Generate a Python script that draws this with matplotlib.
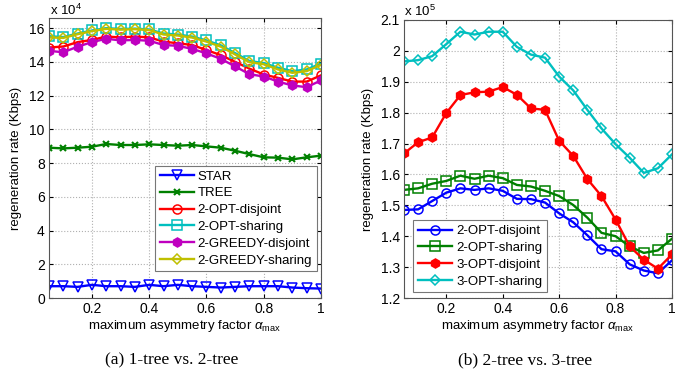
import matplotlib
matplotlib.use("Agg")
import matplotlib.pyplot as plt

plt.rcParams['font.family'] = ['Liberation Sans', 'DejaVu Sans']
plt.rcParams['mathtext.fontset'] = 'custom'
plt.rcParams['mathtext.rm'] = 'Liberation Sans'
plt.rcParams['mathtext.it'] = 'Liberation Sans:italic'

x = [0.05, 0.10, 0.15, 0.20, 0.25, 0.30, 0.35, 0.40, 0.45, 0.50,
     0.55, 0.60, 0.65, 0.70, 0.75, 0.80, 0.85, 0.90, 0.95, 1.00]

# Left panel (x 10^4 Kbps)
star = [0.70, 0.70, 0.66, 0.78, 0.70, 0.70, 0.66, 0.78, 0.70, 0.78,
        0.70, 0.66, 0.62, 0.66, 0.70, 0.70, 0.70, 0.62, 0.58, 0.56]
tree = [8.91, 8.87, 8.91, 8.97, 9.13, 9.07, 9.07, 9.11, 9.07, 9.03,
        9.07, 8.99, 8.91, 8.73, 8.53, 8.34, 8.32, 8.22, 8.34, 8.44]
opt2_disjoint = [14.85, 14.91, 15.17, 15.30, 15.50, 15.45, 15.50, 15.45, 15.20, 15.10,
                 15.00, 14.70, 14.40, 14.00, 13.60, 13.25, 13.05, 12.83, 12.83, 13.20]
opt2_sharing = [15.52, 15.47, 15.68, 15.86, 16.00, 15.95, 15.97, 15.92, 15.68, 15.62,
                15.50, 15.27, 14.98, 14.52, 14.05, 13.93, 13.65, 13.45, 13.55, 13.90]
greedy2_disjoint = [14.65, 14.57, 14.90, 15.17, 15.37, 15.27, 15.30, 15.25, 15.00, 14.95,
                    14.77, 14.50, 14.18, 13.73, 13.27, 13.13, 12.83, 12.60, 12.50, 12.90]
greedy2_sharing = [15.45, 15.42, 15.64, 15.82, 15.96, 15.91, 15.94, 15.88, 15.62, 15.56,
                   15.44, 15.20, 14.90, 14.44, 13.98, 13.86, 13.55, 13.35, 13.45, 13.82]

# Right panel (x 10^5 Kbps)
r_opt2_disjoint = [1.485, 1.487, 1.514, 1.541, 1.555, 1.550, 1.555, 1.547, 1.521, 1.520,
                   1.509, 1.474, 1.445, 1.403, 1.358, 1.351, 1.309, 1.289, 1.280, 1.322]
r_opt2_sharing = [1.550, 1.555, 1.570, 1.579, 1.596, 1.586, 1.596, 1.588, 1.566, 1.561,
                  1.547, 1.530, 1.501, 1.460, 1.411, 1.400, 1.367, 1.346, 1.354, 1.392]
r_opt3_disjoint = [1.668, 1.704, 1.720, 1.799, 1.857, 1.866, 1.868, 1.883, 1.858, 1.814,
                   1.809, 1.709, 1.660, 1.585, 1.530, 1.454, 1.367, 1.324, 1.295, 1.341]
r_opt3_sharing = [1.966, 1.970, 1.983, 2.022, 2.062, 2.053, 2.062, 2.062, 2.013, 1.988,
                  1.978, 1.917, 1.872, 1.809, 1.749, 1.698, 1.654, 1.605, 1.620, 1.665]

left_yticks = [0, 2, 4, 6, 8, 10, 12, 14, 16]
right_yticks = [1.2, 1.3, 1.4, 1.5, 1.6, 1.7, 1.8, 1.9, 2.0, 2.1]
right_ylabels = ['1.2', '1.3', '1.4', '1.5', '1.6', '1.7', '1.8', '1.9', '2', '2.1']
xticks = [0.2, 0.4, 0.6, 0.8, 1.0]
xlabels = ['0.2', '0.4', '0.6', '0.8', '1']

BLUE = (0, 0, 1)
GREEN = (0, 0.5, 0)
RED = (1, 0, 0)
CYAN = (0, 0.75, 0.75)
MAG = (0.75, 0, 0.75)
YEL = (0.75, 0.75, 0)

W, H = 686, 376
fig = plt.figure(figsize=(W / 100, H / 100), dpi=100)

def px_axes(x0, x1, ytop, ybot):
    return fig.add_axes([x0 / W, 1 - ybot / H, (x1 - x0) / W, (ybot - ytop) / H])

def style(ax):
    ax.grid(True, linestyle=':', color='#b0b0b0', linewidth=0.8)
    ax.tick_params(direction='in', length=3, labelsize=10, top=True, right=True, pad=3)
    for s in ax.spines.values():
        s.set_color('#555555')
        s.set_linewidth(0.8)
    ax.set_xticks(xticks)
    ax.set_xticklabels(xlabels)
    ax.set_xlim(0.05, 1.0)
    ax.set_xlabel(r'maximum asymmetry factor $\alpha_{\mathrm{max}}$', fontsize=9.5, labelpad=1)
    ax.set_ylabel('regeneration rate (Kbps)', fontsize=9.5, labelpad=5)

lw = 1.7
ms = 6.5

ax1 = px_axes(49, 321, 18, 298)
ax1.plot(x, star, color=BLUE, lw=lw, marker='v', ms=ms, mfc='none', mew=1.1, label='STAR')
ax1.plot(x, tree, color=GREEN, lw=lw, marker='x', ms=5, mew=1.5, label='TREE')
ax1.plot(x, opt2_disjoint, color=RED, lw=lw, marker='o', ms=ms, mfc='none', mew=1.1, label='2-OPT-disjoint')
ax1.plot(x, opt2_sharing, color=CYAN, lw=lw, marker='s', ms=ms, mfc='none', mew=1.1, label='2-OPT-sharing')
ax1.plot(x, greedy2_disjoint, color=MAG, lw=lw, marker='h', ms=ms, mew=1.1, label='2-GREEDY-disjoint')
ax1.plot(x, greedy2_sharing, color=YEL, lw=lw, marker='D', ms=5.5, mfc='none', mew=1.1, label='2-GREEDY-sharing')
ax1.set_ylim(0, 16.6)
ax1.set_yticks(left_yticks)
style(ax1)
leg1 = ax1.legend(loc='lower right', bbox_to_anchor=(0.985, 0.095), fontsize=9.5, frameon=True,
                  fancybox=False, edgecolor='#777777', framealpha=1, handlelength=2.6,
                  handletextpad=0.3, labelspacing=0.35, borderpad=0.35, borderaxespad=0)
leg1.get_frame().set_linewidth(0.8)
fig.text(50 / W, 1 - 15 / H, r'x 10$^{4}$', fontsize=9.5, ha='left', va='baseline')

ax2 = px_axes(404, 672, 20, 298)
ax2.plot(x, r_opt2_disjoint, color=BLUE, lw=lw, marker='o', ms=ms, mfc='none', mew=1.1, label='2-OPT-disjoint')
ax2.plot(x, r_opt2_sharing, color=GREEN, lw=lw, marker='s', ms=ms, mfc='none', mew=1.1, label='2-OPT-sharing')
ax2.plot(x, r_opt3_disjoint, color=RED, lw=lw, marker='h', ms=ms, mew=1.1, label='3-OPT-disjoint')
ax2.plot(x, r_opt3_sharing, color=CYAN, lw=lw, marker='D', ms=5.5, mfc='none', mew=1.1, label='3-OPT-sharing')
ax2.set_ylim(1.2, 2.1)
ax2.set_yticks(right_yticks)
ax2.set_yticklabels(right_ylabels)
style(ax2)
leg2 = ax2.legend(loc='lower left', bbox_to_anchor=(0.035, 0.02), fontsize=9.5, frameon=True,
                  fancybox=False, edgecolor='#777777', framealpha=1, handlelength=2.6,
                  handletextpad=0.3, labelspacing=0.35, borderpad=0.35, borderaxespad=0)
leg2.get_frame().set_linewidth(0.8)
fig.text(404 / W, 1 - 16 / H, r'x 10$^{5}$', fontsize=9.5, ha='left', va='baseline')

fig.text(172 / W, 1 - 360 / H, '(a) 1-tree vs. 2-tree', family='Liberation Serif', fontsize=12.5,
         ha='center', va='center')
fig.text(525 / W, 1 - 360 / H, '(b) 2-tree vs. 3-tree', family='Liberation Serif', fontsize=12.5,
         ha='center', va='center')

fig.savefig('out.png', dpi=100)
